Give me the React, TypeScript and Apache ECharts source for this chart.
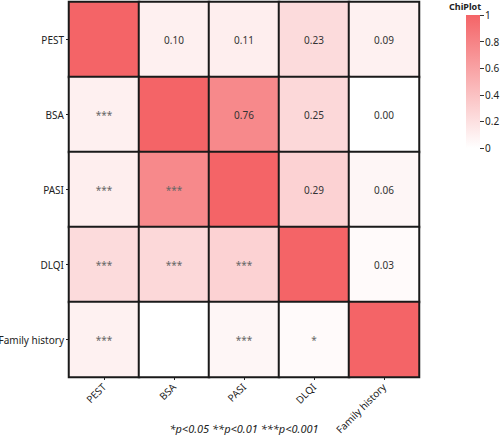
import React, { useEffect, useRef } from 'react';
import * as echarts from 'echarts';

const variables = ['PEST', 'BSA', 'PASI', 'DLQI', 'Family history'];
const corrMatrix = [
  [1, 0.10, 0.11, 0.23, 0.09],
  [0.10, 1, 0.76, 0.25, 0.00],
  [0.11, 0.76, 1, 0.29, 0.06],
  [0.23, 0.25, 0.29, 1, 0.03],
  [0.09, 0.00, 0.06, 0.03, 1],
];
const sigMatrix = [
  ['', '', '', '', ''],
  ['***', '', '', '', ''],
  ['***', '***', '', '', ''],
  ['***', '***', '***', '', ''],
  ['***', '', '***', '*', ''],
];
const legendMin = 0;
const legendMax = 1;
const legendStep = 0.2;
const legendTitle = 'ChiPlot';
const footnote = '*p<0.05 **p<0.01 ***p<0.001';

const HIGH = '#F46467';
const FONT = '"Noto Sans", sans-serif';

export default function App() {
  const ref = useRef<HTMLDivElement>(null);
  useEffect(() => {
    if (!ref.current) return;
    const chart = echarts.init(ref.current, undefined, { renderer: 'svg' });
    const data: any[] = [];
    for (let i = 0; i < variables.length; i++) {
      for (let j = 0; j < variables.length; j++) {
        const v = corrMatrix[i][j];
        let text = '';
        let color = '#333';
        if (i < j) text = v.toFixed(2);
        else if (i > j) { text = sigMatrix[i][j]; color = '#666'; }
        data.push({ value: [j, i, v, text], label: { color } });
      }
    }
    chart.setOption({
      animation: false,
      textStyle: { fontFamily: FONT },
      title: {
        text: legendTitle,
        left: 449,
        top: 1,
        padding: 0,
        textStyle: { fontSize: 9, fontWeight: 'bold', color: '#222', fontFamily: FONT, lineHeight: 10 },
      },
      graphic: [
        {
          type: 'rect',
          left: 466,
          top: 15,
          z: -1,
          shape: { width: 14, height: 133 },
          style: {
            fill: new echarts.graphic.LinearGradient(0, 0, 0, 1, [
              { offset: 0, color: HIGH },
              { offset: 1, color: '#FFFFFF' },
            ]),
          },
        },
      ],
      grid: [
        { left: 69, top: 2, width: 350, height: 375, outerBoundsMode: 'none', containLabel: false },
        { left: 466, top: 15, width: 14, height: 133, outerBoundsMode: 'none', containLabel: false },
      ],
      xAxis: [
        {
          type: 'category',
          data: variables,
          gridIndex: 0,
          axisLine: { show: true, lineStyle: { color: '#222', width: 1 } },
          axisTick: { show: true, alignWithLabel: true, length: 3, lineStyle: { color: '#222' } },
          axisLabel: { rotate: 45, fontSize: 10, color: '#222', margin: 8, interval: 0 },
          splitLine: { show: false },
          name: footnote,
          nameLocation: 'middle',
          nameGap: 46,
          nameMoveOverlap: false,
          nameTextStyle: { fontStyle: 'italic', fontSize: 11, color: '#222' },
        },
        { type: 'category', gridIndex: 1, show: false, data: [''] },
      ],
      yAxis: [
        {
          type: 'category',
          data: variables,
          inverse: true,
          gridIndex: 0,
          axisLine: { show: true, lineStyle: { color: '#222', width: 1 } },
          axisTick: { show: true, alignWithLabel: true, length: 3, lineStyle: { color: '#222' } },
          axisLabel: { fontSize: 10, color: '#222', margin: 5, interval: 0 },
          splitLine: { show: false },
        },
        {
          type: 'value',
          gridIndex: 1,
          min: legendMin,
          max: legendMax,
          interval: legendStep,
          position: 'right',
          axisLine: { show: true, onZero: false, lineStyle: { color: 'rgba(0,0,0,0)' } },
          axisTick: { show: true, inside: false, length: 4, lineStyle: { color: '#333', width: 1 } },
          axisLabel: { fontSize: 10, color: '#222', margin: 5 },
          splitLine: { show: false },
        },
      ],
      visualMap: {
        type: 'continuous',
        show: false,
        min: legendMin,
        max: legendMax,
        dimension: 2,
        seriesIndex: 0,
        inRange: { color: ['#FFFFFF', HIGH] },
      },
      series: [
        {
          type: 'heatmap',
          xAxisIndex: 0,
          yAxisIndex: 0,
          data,
          itemStyle: { borderColor: '#1a1a1a', borderWidth: 2 },
          label: {
            show: true,
            fontSize: 10,
            fontFamily: FONT,
            formatter: (p: any) => p.value[3],
          },
          emphasis: { disabled: true },
        },
      ],
    });
    return () => chart.dispose();
  }, []);
  return (
    <div
      ref={ref}
      style={{ position: 'absolute', left: 0, top: 0, width: 500, height: 435, background: '#fff' }}
    />
  );
}
